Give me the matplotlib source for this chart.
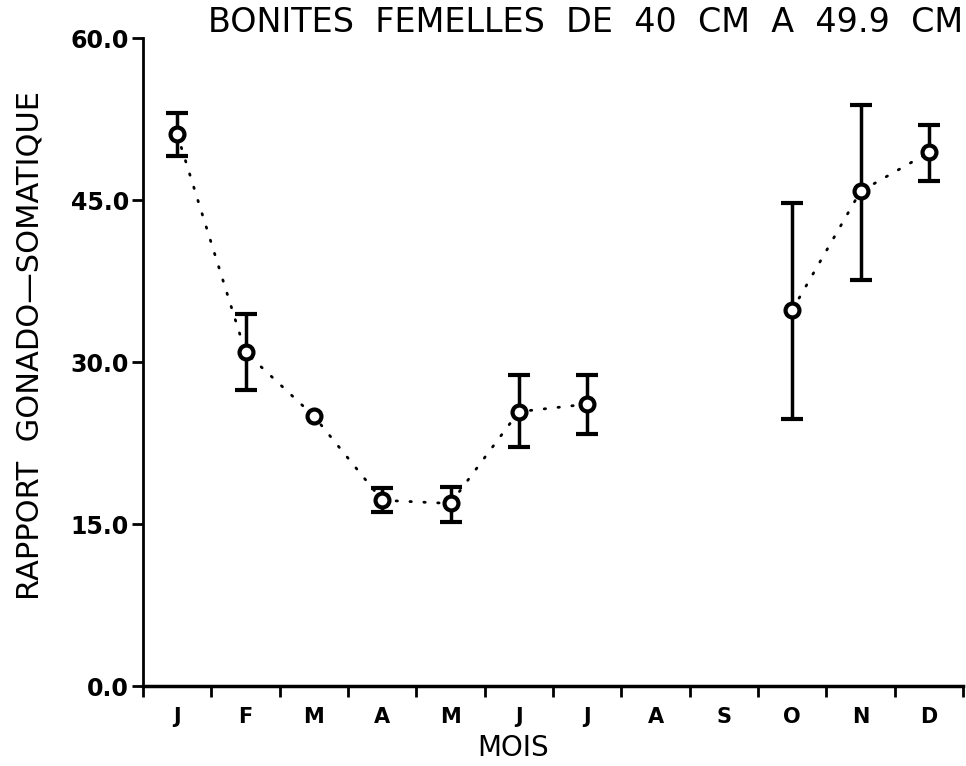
import numpy as np
import matplotlib
matplotlib.use("Agg")
import matplotlib.pyplot as plt

# mois (J..D) et rapport gonado-somatique moyen, avec bornes des barres d'erreur
months = ["J", "F", "M", "A", "M", "J", "J", "A", "S", "O", "N", "D"]
rgs_mean = [51.1, 30.9, 25.0, 17.2, 16.9, 25.4, 26.1, np.nan, np.nan, 34.8, 45.8, 49.4]
rgs_low = [49.1, 27.4, np.nan, 16.1, 15.2, 22.1, 23.3, np.nan, np.nan, 24.7, 37.6, 46.8]
rgs_high = [53.1, 34.4, np.nan, 18.3, 18.4, 28.8, 28.8, np.nan, np.nan, 44.7, 53.8, 51.9]
y_ticks = [0, 15, 30, 45, 60]

x = np.arange(len(months)) + 0.5
mean = np.array(rgs_mean)
low = np.array(rgs_low)
high = np.array(rgs_high)

fig = plt.figure(figsize=(9.66, 7.66), dpi=100)
ax = fig.add_axes([143 / 966, 1 - 686 / 766, 820 / 966, 648 / 766])

# ligne pointillee (coupee en aout-septembre)
ax.plot(x, mean, color="black", linestyle=(0, (0.5, 4.5)), linewidth=2.0,
        dash_capstyle="round")

has_err = ~np.isnan(low)
ax.errorbar(x[has_err], mean[has_err],
            yerr=[mean[has_err] - low[has_err], high[has_err] - mean[has_err]],
            fmt="none", ecolor="black", elinewidth=2.5, capsize=8, capthick=3)
ax.plot(x, mean, "o", markersize=10, markerfacecolor="white",
        markeredgecolor="black", markeredgewidth=3, linestyle="none")

ax.set_xlim(0, 12)
ax.set_ylim(0, 60)
ax.spines["top"].set_visible(False)
ax.spines["right"].set_visible(False)
ax.spines["left"].set_linewidth(2)
ax.spines["bottom"].set_linewidth(2.5)

ax.set_xticks(np.arange(0, 13))
ax.set_xticklabels([])
ax.set_xticks(x, minor=True)
ax.set_xticklabels(months, minor=True, fontsize=15, fontweight="bold")
ax.tick_params(axis="x", which="major", direction="out", length=8, width=2)
ax.tick_params(axis="x", which="minor", length=0, pad=15)

ax.set_yticks(y_ticks)
ax.set_yticklabels([f"{v:.1f}" for v in y_ticks], fontsize=17, fontweight="bold")
ax.tick_params(axis="y", direction="out", length=8, width=2, pad=2)

fig.text(963 / 966, 1 - 22 / 766, "BONITES  FEMELLES  DE  40  CM  A  49.9  CM",
         ha="right", va="center", fontsize=24)
fig.text(30 / 966, 1 - 345 / 766, "RAPPORT  GONADO\u2014SOMATIQUE",
         rotation=90, ha="center", va="center", fontsize=22)
fig.text(513 / 966, 1 - 748 / 766, "MOIS", ha="center", va="center", fontsize=20)

fig.savefig("out.png", dpi=100)
